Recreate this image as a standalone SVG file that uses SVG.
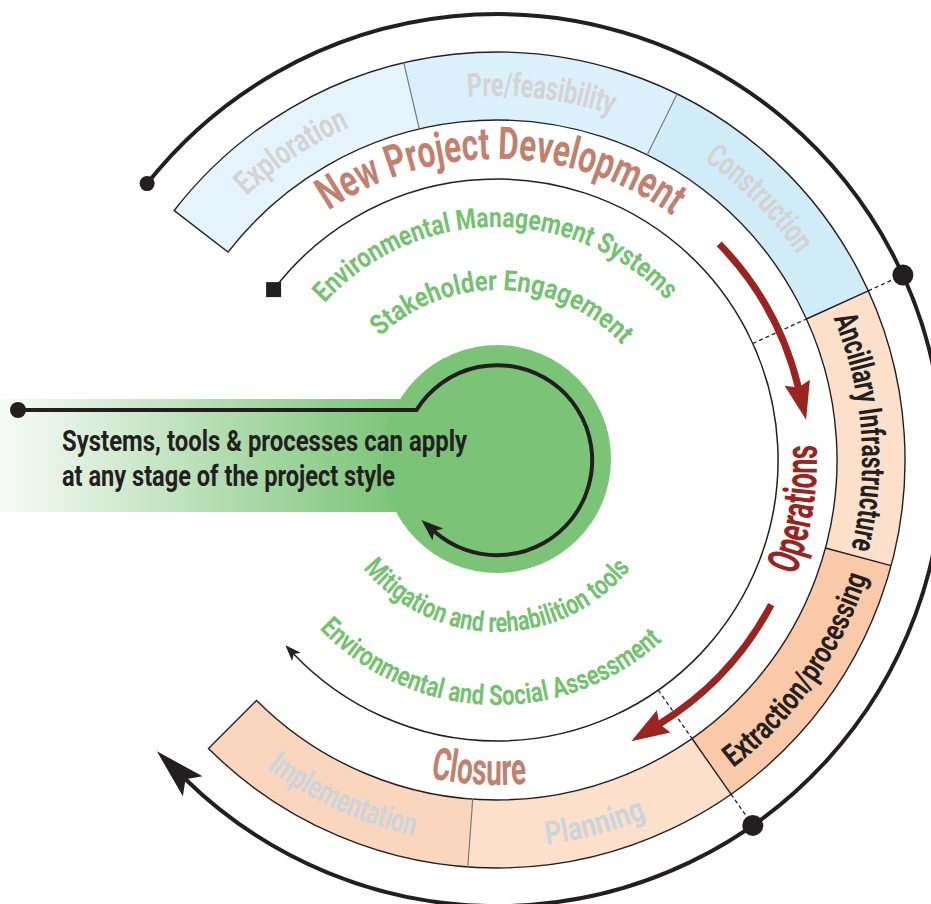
<svg xmlns="http://www.w3.org/2000/svg" width="931" height="904" viewBox="0 0 931 904">
<style>
.t{font-family:Roboto,"DejaVu Sans",sans-serif;}
.band{font-size:33px;font-weight:700;}
.gray1{fill:#d5d3d3;}
.gray2{fill:#cdd5db;}
.blk{fill:#231f20;}
.head{font-size:45px;font-weight:700;fill:#c1816e;}
.ops{font-size:45px;font-weight:700;fill:#9a2420;}
.grn{font-size:28px;font-weight:700;fill:#74c170;}
.sep{stroke:#231f20;stroke-width:1.4;fill:none;}
.sepg{stroke:#7a7a7a;stroke-width:1.2;fill:none;}
.dash{stroke:#231f20;stroke-width:1.3;stroke-dasharray:4 3;fill:none;}
.thin{stroke:#231f20;stroke-width:1.5;fill:none;}
.red{stroke:#9a2420;stroke-width:7;fill:none;}
.dot{fill:#231f20;}
</style>
<defs>
<marker id="mBig" markerUnits="userSpaceOnUse" viewBox="-50 -14 50 28" refX="-40" refY="0" markerWidth="50" markerHeight="28" orient="auto" overflow="visible"><path d="M0,0 L-50,-14 L-40,0 L-50,14Z" fill="#231f20"/></marker>
<marker id="mThin" markerUnits="userSpaceOnUse" viewBox="-16 -6 16 12" refX="-12" refY="0" markerWidth="16" markerHeight="12" orient="auto" overflow="visible"><path d="M0,0 L-16,-6 L-12,0 L-16,6Z" fill="#231f20"/></marker>
<marker id="mLoop" markerUnits="userSpaceOnUse" viewBox="-22 -8 22 16" refX="-17" refY="0" markerWidth="22" markerHeight="16" orient="auto" overflow="visible"><path d="M0,0 L-22,-8 L-17,0 L-22,8Z" fill="#231f20"/></marker>
<marker id="mRed" markerUnits="userSpaceOnUse" viewBox="-38 -13 38 26" refX="-33" refY="0" markerWidth="38" markerHeight="26" orient="auto" overflow="visible"><path d="M0,0 L-38,-13 L-33,0 L-38,13Z" fill="#9a2420"/></marker>
<linearGradient id="gBanner" gradientUnits="userSpaceOnUse" x1="0" y1="0" x2="400" y2="0">
<stop offset="0" stop-color="#7bc477" stop-opacity="0.06"/>
<stop offset="1" stop-color="#7bc477" stop-opacity="1"/>
</linearGradient>
<path id="pExp" d="M170.7,298.7 A364,364 0 0 1 473.5,96.8"/>
<path id="pPre" d="M354.2,125.2 A364,364 0 0 1 715.5,168.9"/>
<path id="pCon" d="M591.8,108.6 A364,364 0 0 1 848.8,366.4"/>
<path id="pAnc" d="M779.0,228.3 A365,365 0 0 1 811.2,645.8"/>
<path id="pExt" d="M629.7,824.6 A388,388 0 0 0 885,460"/>
<path id="pPla" d="M429.6,842.1 A388,388 0 0 0 746.4,757.2"/>
<path id="pImp" d="M183.2,683.0 A385,385 0 0 0 533.2,843.3"/>
<path id="pNPD" d="M269.1,263.3 A301,301 0 0 1 730.2,269.8"/>
<path id="pClo" d="M368.5,758.5 A325,325 0 0 0 590.4,771.3"/>
<path id="pOps" d="M761.7,639.9 A320,320 0 0 0 804.9,372.9"/>
<path id="pEMS" d="M305.0,328.0 A233,233 0 0 1 686.7,324.7"/>
<path id="pSE" d="M361.1,357.9 A170,170 0 0 1 639.4,367.2"/>
<path id="pMit" d="M348.0,546.0 A172,172 0 0 0 646.0,546.0"/>
<path id="pESA" d="M291.5,593.4 A245,245 0 0 0 692.7,607.4"/>
</defs>

<g id="stage-band">
<path id="seg-exploration" d="M174.2,210.5 A408,408 0 0 1 403.8,62.8 L419.3,129.0 A340,340 0 0 0 228.0,252.1Z" fill="#e5f4fc"/>
<path id="seg-prefeasibility" d="M403.8,62.8 A408,408 0 0 1 677.1,93.9 L647.1,154.9 A340,340 0 0 0 419.3,129.0Z" fill="#daf0fb"/>
<path id="seg-construction" d="M677.1,93.9 A408,408 0 0 1 868.3,290.8 L806.4,319.0 A340,340 0 0 0 647.1,154.9Z" fill="#d0ecf8"/>
<path id="seg-ancillary" d="M868.3,290.8 A408,408 0 0 1 891.1,565.6 L825.4,548.0 A340,340 0 0 0 806.4,319.0Z" fill="#fde0cb"/>
<path id="seg-extraction" d="M891.1,565.6 A408,408 0 0 1 731.0,794.2 L692.0,738.5 A340,340 0 0 0 825.4,548.0Z" fill="#fac9aa"/>
<path id="seg-planning" d="M731.0,794.2 A408,408 0 0 1 467.8,866.9 L472.7,799.1 A340,340 0 0 0 692.0,738.5Z" fill="#fde0cb"/>
<path id="seg-implementation" d="M467.8,866.9 A408,408 0 0 1 208.5,748.5 L256.6,700.4 A340,340 0 0 0 472.7,799.1Z" fill="#fbd6be"/>
<path class="sep" d="M174.2,210.5 A408,408 0 1 1 208.5,748.5 L256.6,700.4 A340,340 0 1 0 228.0,252.1Z"/>
<path class="sep" d="M806.4,319.0 L868.3,290.8 M825.4,548.0 L891.1,565.6 M692.0,738.5 L731.0,794.2"/>
<path class="sepg" d="M419.3,129.0 L403.8,62.8 M647.1,154.9 L677.1,93.9 M472.7,799.1 L467.8,866.9"/>
</g>

<g id="connectors">
<path id="outer-cycle" d="M147.1,183.6 A446,446 0 1 1 185.5,779.2" stroke="#231f20" stroke-width="4" fill="none" marker-end="url(#mBig)"/>
<path id="inner-cycle" class="thin" d="M273.6,289.6 A281,281 0 1 1 293.7,653.9" marker-end="url(#mThin)"/>
<rect x="266.1" y="282.1" width="15" height="15" class="dot"/>
<path class="dash" d="M752.7,343.5 L806.4,319.0 M868.3,290.8 L902.9,275.0 M658.2,690.2 L692.0,738.5 M731.0,794.2 L752.8,825.4"/>
<circle cx="147.1" cy="183.6" r="7.5" class="dot"/>
<circle cx="902.9" cy="275.0" r="10.5" class="dot"/>
<circle cx="752.8" cy="825.4" r="10.5" class="dot"/>
<path id="red-arrow-1" class="red" d="M719.2,243.9 A310,310 0 0 1 798.4,387.6" marker-end="url(#mRed)"/>
<path id="red-arrow-2" class="red" d="M771.2,604.6 A310,310 0 0 1 659.4,724.0" marker-end="url(#mRed)"/>
</g>

<g id="stage-labels" class="t">
<text class="band gray1"><textPath href="#pExp" startOffset="50%" text-anchor="middle" textLength="124" lengthAdjust="spacingAndGlyphs">Exploration</textPath></text>
<text class="band gray1"><textPath href="#pPre" startOffset="50%" text-anchor="middle" textLength="146" lengthAdjust="spacingAndGlyphs">Pre/feasibility</textPath></text>
<text class="band gray1"><textPath href="#pCon" startOffset="50%" text-anchor="middle" textLength="133" lengthAdjust="spacingAndGlyphs">Construction</textPath></text>
<text class="band blk"><textPath href="#pAnc" startOffset="50%" text-anchor="middle" textLength="235" lengthAdjust="spacingAndGlyphs">Ancillary Infrastructure</textPath></text>
<text class="band blk" style="font-size:31px"><textPath href="#pExt" startOffset="50%" text-anchor="middle" textLength="237" lengthAdjust="spacingAndGlyphs">Extraction/processing</textPath></text>
<text class="band gray2"><textPath href="#pPla" startOffset="50%" text-anchor="middle" textLength="104" lengthAdjust="spacingAndGlyphs">Planning</textPath></text>
<text class="band gray2"><textPath href="#pImp" startOffset="50%" text-anchor="middle" textLength="163" lengthAdjust="spacingAndGlyphs">Implementation</textPath></text>
</g>

<g id="phase-labels" class="t">
<text class="head"><textPath href="#pNPD" startOffset="50%" text-anchor="middle" textLength="366" lengthAdjust="spacingAndGlyphs">New Project Development</textPath></text>
<text class="head"><textPath href="#pClo" startOffset="50%" text-anchor="middle" textLength="97" lengthAdjust="spacingAndGlyphs">Closure</textPath></text>
<text class="ops"><textPath href="#pOps" startOffset="50%" text-anchor="middle" textLength="133" lengthAdjust="spacingAndGlyphs">Operations</textPath></text>
</g>

<g id="tool-labels" class="t">
<text class="grn"><textPath href="#pEMS" startOffset="50%" text-anchor="middle" textLength="384" lengthAdjust="spacingAndGlyphs">Environmental Management Systems</textPath></text>
<text class="grn"><textPath href="#pSE" startOffset="50%" text-anchor="middle" textLength="269" lengthAdjust="spacingAndGlyphs">Stakeholder Engagement</textPath></text>
<text class="grn"><textPath href="#pMit" startOffset="50%" text-anchor="middle" textLength="306" lengthAdjust="spacingAndGlyphs">Mitigation and rehabilition tools</textPath></text>
<text class="grn"><textPath href="#pESA" startOffset="50%" text-anchor="middle" textLength="380" lengthAdjust="spacingAndGlyphs">Environmental and Social Assessment</textPath></text>
</g>

<g id="center-hub">
<rect x="0" y="399" width="430" height="113" fill="url(#gBanner)"/>
<circle cx="497" cy="459" r="114" fill="#7bc477"/>
<path id="hub-loop" d="M18,410 L416.5,410 A95,95 0 1 1 434.1,531.2" stroke="#231f20" stroke-width="4" fill="none" marker-end="url(#mLoop)"/>
<circle cx="18" cy="410" r="8" class="dot"/>
<text class="t blk" font-size="29" font-weight="700"><tspan x="62" y="451" textLength="405" lengthAdjust="spacingAndGlyphs">Systems, tools &amp; processes can apply</tspan><tspan x="62" y="486" textLength="333" lengthAdjust="spacingAndGlyphs">at any stage of the project style</tspan></text>
</g>
</svg>
